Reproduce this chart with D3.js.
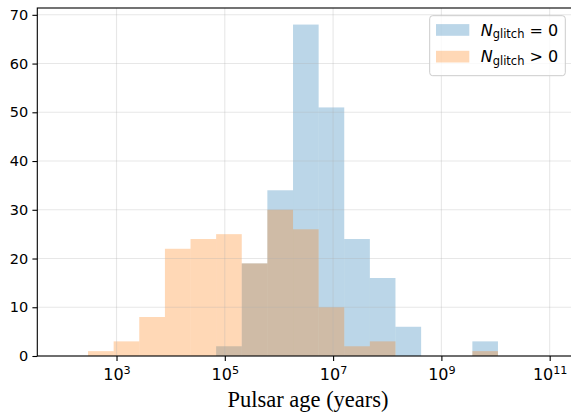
<!DOCTYPE html>
<html><head><meta charset="utf-8">
<script src="https://cdn.jsdelivr.net/npm/d3@7"></script>
<style>body{margin:0;background:#fff}svg{display:block}</style>
</head><body><svg id="c" width="571" height="413"></svg>
<script>
// log10 of histogram bin edges (years)
const binEdgesLog = [2.474, 2.947, 3.420, 3.894, 4.367, 4.840, 5.313, 5.786, 6.260,
                     6.733, 7.206, 7.679, 8.152, 8.626, 9.099, 9.572, 10.045];
const countsNoGlitch = [0, 0, 0, 0, 0, 2, 19, 34, 68, 51, 24, 16, 6, 0, 0, 3];
const countsGlitch   = [1, 3, 8, 22, 24, 25, 19, 30, 26, 10, 2, 3, 0, 0, 0, 1];
const yTicks = [0, 10, 20, 30, 40, 50, 60, 70];
const xTickExps = [3, 5, 7, 9, 11];
const legendOps = ["=", ">"];
const xLabel = "Pulsar age (years)";

const L = 37.3, R = 578.7, T = 8, B = 356;
const svg = d3.select("#c");

const x = d3.scaleLog().domain([Math.pow(10, 1.537), Math.pow(10, 11.536)]).range([L, R]);
const y = d3.scaleLinear().domain([0, 71.4]).range([B, T]);

const colors = ["#1f77b4", "#ff7f0e"];
const alpha = 0.3;

function bars(counts, color) {
  const data = counts.map((c, i) => ({x0: Math.pow(10, binEdgesLog[i]), x1: Math.pow(10, binEdgesLog[i+1]), c}))
    .filter(d => d.c > 0);
  svg.append("g").selectAll("rect").data(data).join("rect")
    .attr("x", d => x(d.x0)).attr("width", d => x(d.x1) - x(d.x0))
    .attr("y", d => y(d.c)).attr("height", d => y(0) - y(d.c))
    .attr("fill", color).attr("fill-opacity", alpha);
}
bars(countsNoGlitch, colors[0]);
bars(countsGlitch, colors[1]);

// grid (above patches, like matplotlib)
const grid = svg.append("g").attr("stroke", "#b0b0b0").attr("stroke-opacity", 0.3).attr("stroke-width", 1.1);
grid.selectAll(".gx").data(xTickExps).join("line")
  .attr("x1", d => x(Math.pow(10, d))).attr("x2", d => x(Math.pow(10, d)))
  .attr("y1", T).attr("y2", B);
grid.selectAll(".gy").data(yTicks).join("line")
  .attr("x1", L).attr("x2", R).attr("y1", d => y(d)).attr("y2", d => y(d));

// axes
const yAxis = d3.axisLeft(y).tickValues(yTicks).tickSize(4.9).tickPadding(4.2).tickFormat(d3.format("d"));
const gy = svg.append("g").attr("transform", `translate(${L},0)`).call(yAxis);
gy.select(".domain").remove();
gy.selectAll("line").attr("stroke", "#000").attr("stroke-width", 1.1);
gy.selectAll("text").attr("font-family", "DejaVu Sans").attr("font-size", 14.5).attr("fill", "#000");

const xAxis = d3.axisBottom(x).tickValues(xTickExps.map(e => Math.pow(10, e))).tickSize(4.9).tickPadding(4).tickFormat(() => "");
const gx = svg.append("g").attr("transform", `translate(0,${B})`).call(xAxis);
gx.select(".domain").remove();
gx.selectAll("line").attr("stroke", "#000").attr("stroke-width", 1.1);
gx.selectAll("text").remove();
gx.selectAll(".tick").append("text")
  .attr("y", 24).attr("text-anchor", "middle").attr("fill", "#000")
  .attr("font-family", "DejaVu Sans").attr("font-size", 16)
  .each(function(d) {
    const t = d3.select(this);
    const e = Math.round(Math.log10(d));
    t.append("tspan").text("10");
    t.append("tspan").attr("font-size", 11.2).attr("dy", -6).text(e);
  });

// spines
const sp = svg.append("g").attr("stroke", "#000").attr("stroke-width", 1.1).attr("fill", "none");
sp.append("rect").attr("x", L).attr("y", T).attr("width", R - L).attr("height", B - T);

// x label
svg.append("text").attr("x", (L + R) / 2).attr("y", 406.5).attr("text-anchor", "middle")
  .attr("font-family", "Liberation Serif").attr("font-size", 22.5).attr("fill", "#000").text(xLabel);

// legend
const lg = svg.append("g");
lg.append("rect").attr("x", 429.7).attr("y", 15.7).attr("width", 135.6).attr("height", 60)
  .attr("rx", 3).attr("fill", "#fff").attr("fill-opacity", 0.8)
  .attr("stroke", "#cccccc").attr("stroke-width", 1);
legendOps.forEach((op, i) => {
  const cy = 30 + i * 26.7;
  lg.append("rect").attr("x", 436).attr("y", cy - 5.9).attr("width", 33.3).attr("height", 11.7)
    .attr("fill", colors[i]).attr("fill-opacity", alpha);
  const t = lg.append("text").attr("x", 480.7).attr("y", cy + 5.5)
    .attr("font-family", "DejaVu Sans").attr("font-size", 16).attr("fill", "#000");
  t.append("tspan").attr("font-style", "italic").text("N");
  t.append("tspan").attr("font-size", 11.5).attr("dy", 2.5).text("glitch");
  t.append("tspan").attr("dy", -2.5).text("\u00a0" + op + "\u00a00");
});
</script></body></html>
